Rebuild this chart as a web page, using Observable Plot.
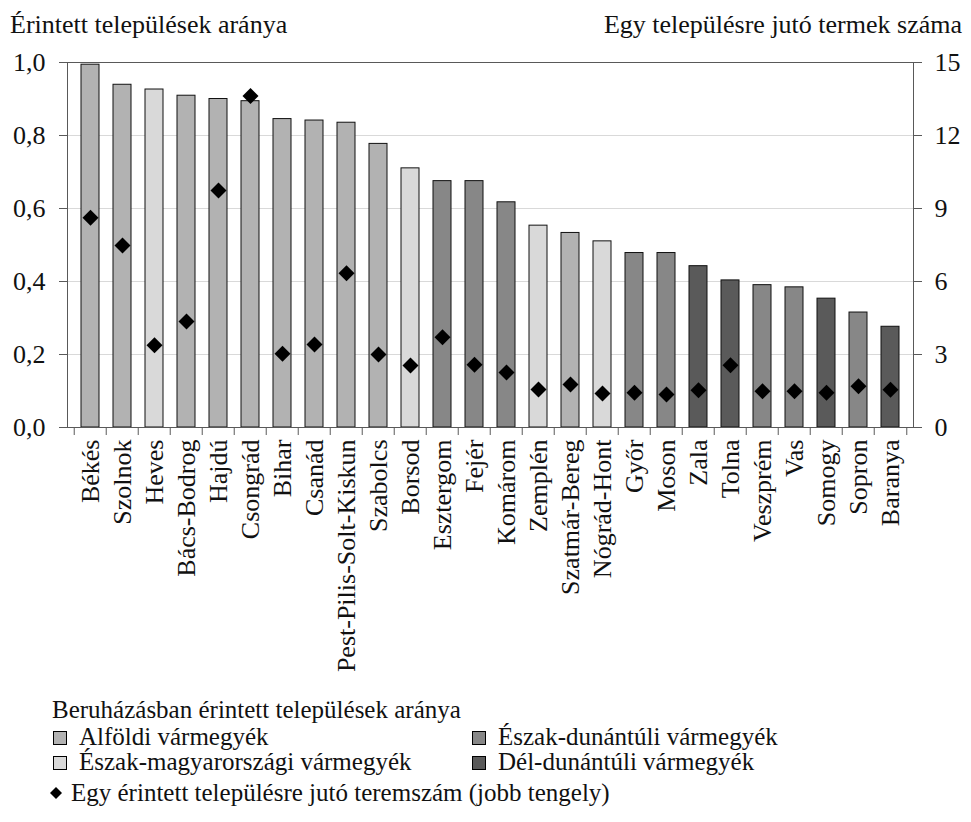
<!DOCTYPE html>
<html><head><meta charset="utf-8">
<script src="https://cdn.jsdelivr.net/npm/d3@7"></script>
<script src="https://cdn.jsdelivr.net/npm/@observablehq/plot@0.6"></script>
<style>
body{margin:0;background:#fff;font-family:"Liberation Serif",serif;color:#111;}
#wrap{width:971px;height:822px;position:relative;overflow:hidden;background:#fff}
.hdr{position:absolute;top:12px;font-size:26px;white-space:nowrap;line-height:26px}
.lg{position:absolute;font-size:25px;white-space:nowrap;line-height:26px}
.sw{position:absolute;width:12px;height:12px;border:1px solid #000}
</style></head><body>
<div id="wrap">
<div class="hdr" style="left:10px">Érintett települések aránya</div>
<div class="hdr" style="right:9px">Egy településre jutó termek száma</div>
<div id="chart" style="position:absolute;top:40px;left:0"></div>
<div id="legend"></div>
</div>
<script>
const counties = ["Békés","Szolnok","Heves","Bács-Bodrog","Hajdú","Csongrád","Bihar","Csanád","Pest-Pilis-Solt-Kiskun","Szabolcs","Borsod","Esztergom","Fejér","Komárom","Zemplén","Szatmár-Bereg","Nógrád-Hont","Győr","Moson","Zala","Tolna","Veszprém","Vas","Somogy","Sopron","Baranya"];
const regionOf = ["A","A","ÉM","A","A","A","A","A","A","A","ÉM","ÉD","ÉD","ÉD","ÉM","A","ÉM","ÉD","ÉD","DD","DD","ÉD","ÉD","DD","ÉD","DD"];
const arany = [0.994,0.939,0.926,0.909,0.900,0.894,0.845,0.841,0.835,0.777,0.710,0.675,0.675,0.617,0.553,0.533,0.510,0.478,0.478,0.442,0.403,0.390,0.384,0.353,0.315,0.276];
const teremszam = [8.62,7.48,3.38,4.36,9.74,13.62,3.03,3.41,6.34,3.00,2.55,3.71,2.58,2.26,1.56,1.77,1.40,1.43,1.36,1.53,2.56,1.49,1.49,1.43,1.70,1.55];
const regionKeys = ["A","ÉM","ÉD","DD"];
const regionLabels = ["Alföldi vármegyék","Észak-magyarországi vármegyék","Észak-dunántúli vármegyék","Dél-dunántúli vármegyék"];
const regionColors = ["#b2b2b2","#d9d9d9","#878787","#5a5a5a"];
const leftTicks = [0,0.2,0.4,0.6,0.8,1.0];
const rightMax = 15;
const legendTitle = "Beruházásban érintett települések aránya";
const diamondLabel = "Egy érintett településre jutó teremszám (jobb tengely)";

const data = counties.map((c,i)=>({county:c, region:regionOf[i], arany:arany[i], terem:teremszam[i]}));

const W = 971, mL = 67, mR = 58, mT = 22, plotH = 365, mB = 255;
const step = (W - mL - mR) / counties.length;

const chart = Plot.plot({
  width: W, height: mT + plotH + mB,
  marginLeft: mL, marginRight: mR, marginTop: mT, marginBottom: mB,
  style: {fontFamily: '"Liberation Serif", serif', fontSize: "26px", color: "#111", background: "white", overflow: "visible"},
  x: {domain: counties, paddingInner: 0.447, paddingOuter: 0.2235, label: null},
  y: {domain: [0, 1], label: null},
  color: {domain: regionKeys, range: regionColors},
  marks: [
    Plot.gridY([0.2,0.4,0.6,0.8], {stroke: "#d9d9d9", strokeOpacity: 1}),
    Plot.barY(data, {x: "county", y: "arany", fill: "region", stroke: "#111", strokeWidth: 1}),
    Plot.frame({stroke: "#595959"}),
    Plot.axisY(leftTicks, {anchor: "left", tickSize: 8, tickPadding: 14, stroke: "#595959", fill: "#111",
      tickFormat: d => d3.format(".1f")(d).replace(".", ",")}),
    Plot.axisY(leftTicks, {anchor: "right", tickSize: 8, tickPadding: 13, stroke: "#595959", fill: "#111",
      tickFormat: d => String(Math.round(d * rightMax))}),
    Plot.axisX({tickSize: 0, tickRotate: -90, tickPadding: 12, fill: "#111"}),
    Plot.ruleX(counties, {x: d => d, y1: 0, y2: -8 / plotH, dx: -step / 2, stroke: "#595959"}),
    Plot.ruleX([counties[counties.length - 1]], {x: d => d, y1: 0, y2: -8 / plotH, dx: step / 2, stroke: "#595959"}),
    Plot.dot(data, {x: "county", y: d => d.terem / rightMax, symbol: "diamond2", r: 7.2, fill: "#000", stroke: null})
  ]
});
document.getElementById("chart").appendChild(chart);

// legend
const lg = document.getElementById("legend");
function add(html){ lg.insertAdjacentHTML("beforeend", html); }
add(`<div class="lg" style="left:52px;top:697px">${legendTitle}</div>`);
const pos = [[53,724],[53,749],[472,724],[472,749]];
regionKeys.forEach((k,i)=>{
  const [x,y] = pos[i];
  add(`<div class="sw" style="left:${x}px;top:${y+7}px;background:${regionColors[i]}"></div>`);
  add(`<div class="lg" style="left:${x+26}px;top:${y}px">${regionLabels[i]}</div>`);
});
add(`<svg style="position:absolute;left:49px;top:786px" width="14" height="14"><path d="M7,1 L13,7 L7,13 L1,7 Z" fill="#000"/></svg>`);
add(`<div class="lg" style="left:71px;top:780px">${diamondLabel}</div>`);
</script>
</body></html>
